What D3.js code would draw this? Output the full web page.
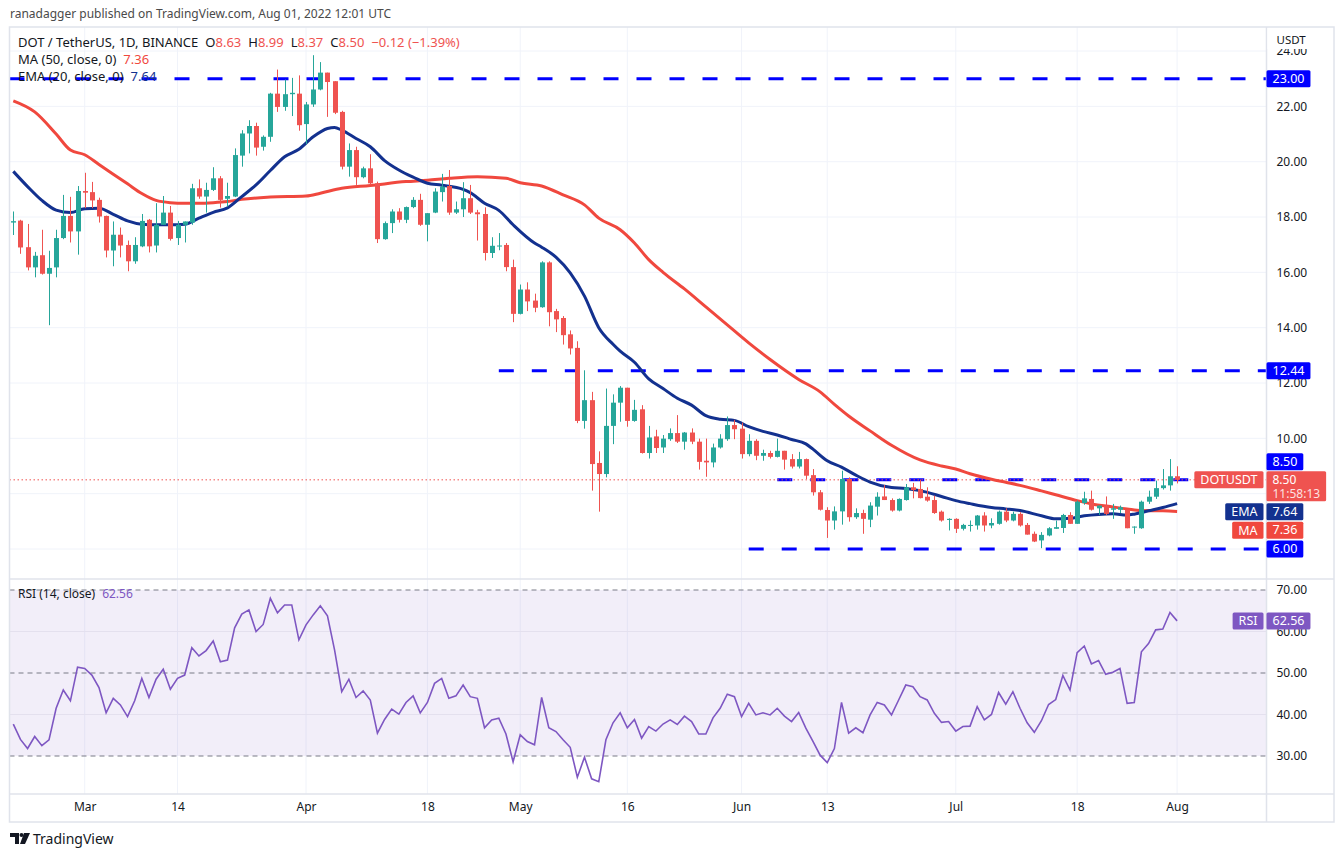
<!DOCTYPE html>
<html>
<head>
<meta charset="utf-8">
<script src="https://cdn.jsdelivr.net/npm/d3@7"></script>
<style>
  body { margin: 0; background: #fff; }
  svg { display: block; font-family: "Noto Sans", sans-serif; }
</style>
</head>
<body>
<div id="chart"></div>
<script>
// ---- data ----
var startDay = "2022-02-19";   // first candle, one candle per day
var opens = [17.8,17.87,16.91,16.18,16.62,15.95,16.18,17.24,18.04,17.48,18.94,18.9,18.62,18.04,16.79,17.36,16.99,16.4,16.94,17.9,
  16.97,17.72,18.16,17.24,17.72,17.8,19.04,18.74,18.98,19.4,18.66,18.74,20.22,21.02,21.29,20.54,20.9,22.46,21.98,22.44,
  22.46,21.36,22.07,22.61,23.22,22.91,21.8,19.82,20.42,19.44,19.76,19.22,17.2,17.78,18.2,17.9,18.36,18.62,17.72,18.16,
  18.9,19.12,18.16,18.28,18.68,18.17,18.11,16.7,16.94,16.99,16.19,14.5,15.38,14.98,14.74,16.36,14.6,14.35,13.76,13.27,
  10.63,11.38,9.11,8.71,10.45,11.29,11.83,10.63,11.05,9.47,10.07,9.67,9.97,10.19,9.88,10.21,9.88,9.19,9.13,9.67,
  9.97,10.48,10.35,9.43,9.91,9.37,9.47,9.33,9.55,9.25,8.98,9.25,8.67,8.05,7.41,7.03,7.36,8.53,7.15,7.3,
  7.06,7.53,7.9,7.77,7.39,7.77,8.23,8.17,7.89,7.77,7.35,7.05,7.09,6.73,6.85,6.85,7.21,6.85,6.91,7.35,
  7.03,7.27,6.87,6.55,6.31,6.49,6.73,6.76,7.23,6.91,7.66,7.81,7.47,7.57,7.42,7.42,7.42,6.79,6.75,7.71,
  7.89,8.2,8.3,8.63];
var highs = [18.2,17.9,17.75,16.74,17.54,16.78,17.54,18.8,18.73,19.12,19.6,19.27,18.7,18.05,17.84,17.62,17.15,17.27,18.11,17.93,
  18.5,18.76,18.4,17.86,17.84,19.2,19.36,19.24,19.8,19.48,19.24,20.48,21.14,21.5,21.41,20.95,22.49,23.33,22.97,23.03,
  23.12,22.16,23.85,23.6,23.22,22.91,21.84,20.66,20.54,19.82,20.27,19.28,17.84,18.28,18.32,18.38,18.72,18.84,18.14,19.04,
  19.56,19.7,18.56,19.26,19.16,18.26,18.35,17.27,17.42,17.06,16.46,15.56,15.64,15.23,16.4,16.4,14.68,14.42,13.9,13.51,
  12.46,11.68,9.53,11.8,11.59,11.89,11.83,11.39,11.2,10.45,10.31,10.12,10.36,10.84,10.23,10.36,9.99,9.99,9.81,10.15,
  10.79,10.67,10.57,10.15,9.97,9.59,9.55,9.99,9.55,9.43,9.51,9.27,8.89,8.13,7.51,7.54,8.83,8.59,7.47,7.42,
  7.69,8.05,8.31,7.83,7.83,8.35,8.39,8.51,8.23,7.93,7.39,7.11,7.11,6.91,7.03,7.23,7.33,7.11,7.39,7.47,
  7.35,7.33,6.94,6.63,6.61,6.79,7.03,7.27,7.33,7.75,8.07,8.11,7.57,7.9,7.63,7.57,7.42,6.82,7.75,8.11,
  8.47,8.89,9.25,8.99];
var lows = [17.35,16.67,16.07,15.82,15.92,14.09,15.82,17.2,17.08,16.64,18.32,18.32,17.8,16.54,16.22,16.54,16.04,16.31,16.91,16.72,
  16.72,17.72,17.15,16.99,17.08,17.72,18.66,18.16,18.94,18.34,18.38,18.72,19.82,20.3,20.22,20.4,20.72,21.8,21.84,21.65,
  21.12,20.64,21.98,22.58,21.62,21.72,19.72,19.46,19.16,19.4,19.16,17.06,17.18,17.42,17.8,17.78,18.32,17.68,17.12,18.14,
  18.56,18.08,18.11,18.0,18.11,17.15,16.43,16.52,16.8,16.04,14.2,14.48,14.6,14.56,14.72,14.05,13.84,13.39,13.03,10.55,
  10.35,8.11,7.35,8.59,9.79,10.6,10.42,10.6,9.45,9.27,9.47,9.47,9.91,9.83,9.59,9.79,8.87,8.61,8.95,9.63,
  9.91,9.97,9.27,9.35,9.21,9.19,9.27,9.31,8.87,8.91,8.91,8.53,7.93,7.39,6.4,6.7,6.88,6.99,7.09,6.55,
  6.79,7.21,7.77,7.35,7.36,7.75,7.83,7.83,7.71,7.27,6.99,6.67,6.58,6.67,6.63,6.7,6.63,6.75,6.88,6.97,
  7.0,6.81,6.52,6.25,6.03,6.46,6.73,6.58,6.91,6.91,7.6,7.39,7.23,7.23,7.09,7.3,6.75,6.55,6.73,7.63,
  7.81,8.15,8.11,8.37];
var closes = [17.85,16.9,16.18,16.6,15.95,16.16,17.24,18.04,17.48,18.94,18.88,18.6,18.02,16.79,17.36,16.97,16.4,16.99,17.86,16.94,
  17.72,18.16,17.21,17.72,17.84,19.04,18.74,18.98,19.4,18.62,18.76,20.24,21.02,21.29,20.51,20.9,22.46,21.98,22.44,22.49,
  21.32,22.07,22.61,23.22,22.88,21.77,19.82,20.42,19.44,19.76,19.22,17.2,17.78,18.2,17.9,18.36,18.62,17.72,18.14,18.92,
  19.1,18.16,18.28,18.68,18.16,18.1,16.7,16.96,16.97,16.19,14.5,15.38,14.95,14.72,16.36,14.56,14.3,13.73,13.25,10.63,
  11.38,9.07,8.71,10.45,11.29,11.83,10.63,11.03,9.47,10.03,9.65,9.99,10.19,9.88,10.21,9.88,9.15,9.13,9.67,9.99,
  10.48,10.33,9.43,9.91,9.37,9.47,9.33,9.55,9.23,8.98,9.25,8.65,8.05,7.42,7.03,7.36,8.53,7.15,7.3,7.09,
  7.57,7.89,7.77,7.39,7.81,8.23,8.13,7.84,7.75,7.3,7.03,7.09,6.73,6.87,6.87,7.21,6.85,6.94,7.35,7.03,
  7.27,6.85,6.52,6.27,6.51,6.75,6.79,7.23,6.91,7.71,7.83,7.42,7.57,7.27,7.47,7.51,6.75,6.81,7.71,7.89,
  8.2,8.3,8.63,8.5];
var rsiValues = [37.7,34.0,31.8,34.7,32.5,33.9,41.5,45.9,43.3,51.4,51.1,49.5,46.5,40.4,43.9,42.3,39.5,43.3,48.7,44.1,
  48.5,50.9,46.1,48.7,49.5,56.1,54.1,55.4,57.7,52.7,53.1,60.9,64.2,65.2,60.0,61.7,68.0,64.5,66.4,66.4,
  58.0,61.6,64.0,66.2,63.8,55.5,45.5,48.5,44.1,45.7,43.5,35.5,38.8,41.3,40.1,42.9,44.5,40.4,42.9,47.5,
  48.7,43.9,44.5,47.1,44.3,43.9,36.8,38.7,39.1,35.3,28.6,35.1,33.5,32.7,44.1,36.8,35.9,33.9,32.1,24.9,
  29.7,24.5,23.8,33.9,38.0,40.4,36.8,38.8,34.3,37.1,36.0,37.7,38.7,37.6,39.6,38.3,35.3,35.3,39.2,41.5,
  44.9,44.3,39.5,42.7,39.9,40.4,39.9,41.5,39.6,38.3,40.5,36.7,33.5,30.2,28.4,31.8,42.9,35.5,36.8,35.6,
  39.9,42.9,42.3,39.9,43.5,47.1,46.7,44.3,43.5,40.3,38.1,38.3,36.0,37.1,37.2,41.9,38.7,40.0,45.3,42.5,
  45.5,41.5,38.0,35.7,38.5,42.4,43.6,49.4,45.9,54.9,56.5,52.2,53.0,49.7,50.2,51.1,42.7,42.9,55.1,57.1,
  60.4,60.6,64.6,62.56];
// MA(50) and EMA(20) read at these candle numbers (1 = first candle)
var maDays = [1,4,7,9,11,13,15,17,19,21,23,25,27,29,31,33,37,42,44,47,51,56,59,62,66,70,72,75,78,81,
  83,86,88,90,92,95,98,101,104,107,111,114,116,118,121,124,128,131,133,135,138,140,142,145,147,150,152,155,157,159,162,164];
var maValues = [22.2,21.8,21.0,20.42,20.25,19.9,19.55,19.2,18.85,18.6,18.52,18.5,18.5,18.52,18.56,18.64,18.72,18.76,18.86,19.04,
  19.14,19.28,19.33,19.4,19.46,19.4,19.24,19.12,18.8,18.44,17.96,17.54,17.06,16.46,16.0,15.4,14.75,14.1,13.45,12.85,
  12.13,11.68,11.23,10.81,10.27,9.75,9.22,9.0,8.89,8.72,8.52,8.41,8.3,8.1,7.96,7.75,7.63,7.52,7.45,7.39,7.38,7.36];
var emaDays = [1,3,5,7,9,11,13,15,17,19,21,23,25,27,29,31,33,35,37,39,41,43,45,46,47,49,51,53,55,57,
  59,61,64,65,67,69,71,74,75,77,79,81,83,85,86,88,90,92,94,96,98,100,102,104,106,108,110,112,113,115,
  117,119,121,124,126,128,131,133,135,138,140,142,145,147,149,151,153,155,157,158,160,162,164];
var emaValues = [19.65,19.1,18.6,18.25,18.16,18.3,18.32,18.1,17.86,17.74,17.72,17.72,17.74,17.96,18.17,18.33,18.74,19.16,19.68,20.18,
  20.45,20.9,21.2,21.24,21.14,20.84,20.54,20.04,19.7,19.44,19.22,19.15,19.0,18.88,18.5,18.24,17.72,17.06,16.91,16.55,
  15.98,15.14,14.0,13.4,13.15,12.75,12.15,11.8,11.45,11.2,10.82,10.69,10.65,10.42,10.25,10.12,9.96,9.8,9.61,9.19,
  8.96,8.67,8.42,8.22,8.19,8.11,7.9,7.75,7.64,7.5,7.45,7.39,7.2,7.09,7.11,7.2,7.25,7.27,7.23,7.26,7.38,7.5,7.64];
// horizontal levels drawn on the chart, start / end candle (0 = from the left edge)
var levels = [23.00, 12.44, 8.50, 6.00];
var levelFrom = [0, 69, 108, 104];
var levelTo = [null, null, 166, null];
var tickDates = ["2022-03-01","2022-03-14","2022-04-01","2022-04-18","2022-05-01","2022-05-16","2022-06-01","2022-06-13","2022-07-01","2022-07-18","2022-08-01"];
var tickLabels = ["Mar","14","Apr","18","May","16","Jun","13","Jul","18","Aug"];
var priceTicks = [6,8,10,12,14,16,18,20,22,24];
var priceLabels = [10,12,14,16,18,20,22,24];   // 6.00 and 8.00 sit under the label boxes
var rsiTicks = [30,40,50,60,70];
var lastInfo = { open: 8.63, high: 8.99, low: 8.37, close: 8.50, change: "−0.12 (−1.39%)", timer: "11:58:13", ma: 7.36, ema: 7.64, rsi: 62.56 };

// ---- layout ----
var W = 1344, H = 857;
var padL = 9.5, plotRight = 1266.5, padR = 1334, padT = 27;
var mainBottom = 578.5, rsiBottom = 794, padB = 822;
var upColor = "#26a69a", downColor = "#ef5350";
var maColor = "#f0483e", emaColor = "#13318f", levelColor = "#0000ff", rsiColor = "#7e57c2";
var gridColor = "#f0f3fa", textColor = "#131722";

var parse = d3.utcParse("%Y-%m-%d");
var day0 = parse(startDay);
var dayOf = function (n) { return d3.utcDay.offset(day0, n - 1); };

var x = d3.scaleUtc()
    .domain([day0, parse("2022-08-01")])
    .range([13.3, 1177.1]);
var y = d3.scaleLinear().domain([6, 20]).range([549, 161.7]);
var yr = d3.scaleLinear().domain([30, 70]).range([756, 590]);

var candles = closes.map(function (c, i) {
    return { date: dayOf(i + 1), o: opens[i], h: highs[i], l: lows[i], c: c };
});

var svg = d3.select("#chart").append("svg")
    .attr("width", W).attr("height", H);

svg.append("text")
    .attr("x", 10).attr("y", 18)
    .attr("font-size", 12).attr("fill", "#4a4a4a")
    .text("ranadagger published on TradingView.com, Aug 01, 2022 12:01 UTC");

var defs = svg.append("defs");
defs.append("clipPath").attr("id", "mainClip").append("rect")
    .attr("x", padL).attr("y", padT).attr("width", plotRight - padL).attr("height", mainBottom - padT);
defs.append("clipPath").attr("id", "rsiClip").append("rect")
    .attr("x", padL).attr("y", mainBottom).attr("width", plotRight - padL).attr("height", rsiBottom - mainBottom);

// grid
var grid = svg.append("g");
grid.selectAll(".vg").data(tickDates).enter().append("line")
    .attr("x1", function (d) { return x(parse(d)); })
    .attr("x2", function (d) { return x(parse(d)); })
    .attr("y1", padT).attr("y2", rsiBottom)
    .attr("stroke", gridColor).attr("stroke-width", 1);
grid.selectAll(".hg").data(priceTicks).enter().append("line")
    .attr("x1", padL).attr("x2", plotRight)
    .attr("y1", function (d) { return y(d); })
    .attr("y2", function (d) { return y(d); })
    .attr("stroke", gridColor).attr("stroke-width", 1);

// ---- main pane ----
var main = svg.append("g").attr("clip-path", "url(#mainClip)");

levels.forEach(function (lv, i) {
    var x1 = levelFrom[i] === 0 ? padL : x(dayOf(levelFrom[i]));
    var x2 = levelTo[i] === null ? plotRight : x(dayOf(levelTo[i]));
    main.append("line")
        .attr("x1", x1).attr("x2", x2)
        .attr("y1", y(lv)).attr("y2", y(lv))
        .attr("stroke", levelColor).attr("stroke-width", 3)
        .attr("stroke-dasharray", "15,18");
});

// last price line
main.append("line")
    .attr("x1", padL).attr("x2", plotRight)
    .attr("y1", y(lastInfo.close)).attr("y2", y(lastInfo.close))
    .attr("stroke", downColor).attr("stroke-width", 1)
    .attr("stroke-dasharray", "1.5,2.5");

var maLine = d3.line()
    .x(function (d) { return x(dayOf(d[0])); })
    .y(function (d) { return y(d[1]); })
    .curve(d3.curveMonotoneX);

main.append("path")
    .datum(maDays.map(function (d, i) { return [d, maValues[i]]; }))
    .attr("d", maLine)
    .attr("fill", "none").attr("stroke", maColor).attr("stroke-width", 3);
main.append("path")
    .datum(emaDays.map(function (d, i) { return [d, emaValues[i]]; }))
    .attr("d", maLine)
    .attr("fill", "none").attr("stroke", emaColor).attr("stroke-width", 3);

var candle = main.selectAll(".candle").data(candles).enter().append("g");
candle.append("line")
    .attr("x1", function (d) { return Math.round(x(d.date)) + 0.5; })
    .attr("x2", function (d) { return Math.round(x(d.date)) + 0.5; })
    .attr("y1", function (d) { return y(d.h); })
    .attr("y2", function (d) { return y(d.l); })
    .attr("stroke", function (d) { return d.c >= d.o ? upColor : downColor; })
    .attr("stroke-width", 1);
candle.append("rect")
    .attr("x", function (d) { return Math.round(x(d.date)) - 2; })
    .attr("width", 5)
    .attr("y", function (d) { return y(Math.max(d.o, d.c)); })
    .attr("height", function (d) { return Math.max(1, Math.abs(y(d.o) - y(d.c))); })
    .attr("fill", function (d) { return d.c >= d.o ? upColor : downColor; });

// ---- RSI pane ----
var rsiG = svg.append("g").attr("clip-path", "url(#rsiClip)");
rsiG.append("rect")
    .attr("x", padL).attr("width", plotRight - padL)
    .attr("y", yr(70)).attr("height", yr(30) - yr(70))
    .attr("fill", rsiColor).attr("fill-opacity", 0.1);
rsiTicks.forEach(function (t) {
    var dashed = (t === 30 || t === 50 || t === 70);
    rsiG.append("line")
        .attr("x1", padL).attr("x2", plotRight)
        .attr("y1", yr(t)).attr("y2", yr(t))
        .attr("stroke", dashed ? "#787b86" : "#e4e0ee")
        .attr("stroke-width", 1)
        .attr("stroke-dasharray", dashed ? "5,4" : null);
});
rsiG.append("path")
    .datum(rsiValues)
    .attr("d", d3.line()
        .x(function (d, i) { return x(dayOf(i + 1)); })
        .y(function (d) { return yr(d); }))
    .attr("fill", "none").attr("stroke", rsiColor).attr("stroke-width", 1.6);

// ---- frame / separators ----
svg.append("rect")
    .attr("x", padL).attr("y", padT).attr("width", padR - padL).attr("height", padB - padT)
    .attr("fill", "none").attr("stroke", "#e0e3eb").attr("stroke-width", 1.5);
[[padL, padR, mainBottom + 0.5], [padL, padR, rsiBottom]].forEach(function (s) {
    svg.append("line").attr("x1", s[0]).attr("x2", s[1]).attr("y1", s[2]).attr("y2", s[2])
        .attr("stroke", "#e0e3eb").attr("stroke-width", 1.5);
});
svg.append("line").attr("x1", plotRight).attr("x2", plotRight).attr("y1", padT).attr("y2", padB)
    .attr("stroke", "#e0e3eb").attr("stroke-width", 1.5);

// ---- axes ----
var xAxis = svg.append("g")
    .attr("transform", "translate(0," + (rsiBottom + 2) + ")")
    .call(d3.axisBottom(x)
        .tickValues(tickDates.map(parse))
        .tickFormat(function (d, i) { return tickLabels[i]; })
        .tickSize(0).tickPadding(6));
xAxis.select(".domain").remove();
xAxis.selectAll("text").attr("font-size", 12).attr("fill", textColor).attr("font-family", "Noto Sans, sans-serif");

var yAxis = svg.append("g")
    .attr("transform", "translate(" + plotRight + ",0)")
    .call(d3.axisRight(y).tickValues(priceLabels).tickFormat(d3.format(".2f")).tickSize(0).tickPadding(10));
yAxis.select(".domain").remove();
yAxis.selectAll("text").attr("font-size", 12).attr("fill", textColor).attr("font-family", "Noto Sans, sans-serif");

var rAxis = svg.append("g")
    .attr("transform", "translate(" + plotRight + ",0)")
    .call(d3.axisRight(yr).tickValues(rsiTicks).tickFormat(d3.format(".2f")).tickSize(0).tickPadding(10));
rAxis.select(".domain").remove();
rAxis.selectAll("text").attr("font-size", 12).attr("fill", textColor).attr("font-family", "Noto Sans, sans-serif");

// the currency header hides the upper half of the top price label
svg.append("rect").attr("x", plotRight + 1).attr("y", padT + 1).attr("width", padR - plotRight - 2).attr("height", 21)
    .attr("fill", "#fff");
svg.append("text").attr("x", plotRight + 10).attr("y", 44)
    .attr("font-size", 11.5).attr("fill", textColor).text("USDT");

// ---- axis labels (boxes) ----
function valueBox(cy, txt, fill, txt2) {
    var g = svg.append("g");
    var h = txt2 ? 30 : 17;
    var fs = txt2 ? 12 : 12.5;
    var r = g.append("rect").attr("x", plotRight).attr("y", cy - 8.5).attr("height", h).attr("rx", 1.5).attr("fill", fill);
    var t = g.append("text").attr("x", plotRight + 6).attr("y", cy + 4)
        .attr("font-size", fs).attr("fill", "#fff").text(txt);
    var w = t.node().getComputedTextLength();
    if (txt2) {
        var t2 = g.append("text").attr("x", plotRight + 6).attr("y", cy + 18)
            .attr("font-size", fs).attr("fill", "#fff").attr("fill-opacity", 0.85).text(txt2);
        w = Math.max(w, t2.node().getComputedTextLength());
    }
    r.attr("width", w + 12);
    return { top: cy - 8.5, bottom: cy - 8.5 + h };
}
function nameBox(cy, txt, fill) {
    var g = svg.append("g");
    var t = g.append("text").attr("y", cy + 4.5).attr("font-size", 12.5).attr("fill", "#fff").text(txt);
    var w = t.node().getComputedTextLength();
    t.attr("x", plotRight - 3 - 6 - w);
    g.insert("rect", "text").attr("x", plotRight - 3 - 12 - w).attr("y", cy - 8.5)
        .attr("width", w + 12).attr("height", 17).attr("rx", 1.5).attr("fill", fill);
}
function fmt(v) { return d3.format(".2f")(v); }

valueBox(y(23), fmt(23), levelColor);
valueBox(y(12.44), fmt(12.44), levelColor);
var pb = valueBox(y(lastInfo.close), fmt(lastInfo.close), downColor, lastInfo.timer);
nameBox(y(lastInfo.close), "DOTUSDT", downColor);
valueBox(pb.top - 9.5, fmt(8.5), levelColor);
var emaY = Math.max(y(lastInfo.ema), pb.bottom + 10.5);
valueBox(emaY, fmt(lastInfo.ema), emaColor);
nameBox(emaY, "EMA", emaColor);
var maY = Math.max(y(lastInfo.ma), emaY + 18.5);
valueBox(maY, fmt(lastInfo.ma), maColor);
nameBox(maY, "MA", maColor);
valueBox(y(6), fmt(6), levelColor);
valueBox(yr(lastInfo.rsi), fmt(lastInfo.rsi), rsiColor);
nameBox(yr(lastInfo.rsi), "RSI", rsiColor);

// ---- legends ----
var lg = svg.append("g").attr("font-size", 13);
var l1 = lg.append("text").attr("x", 18).attr("y", 47).attr("fill", textColor);
l1.append("tspan").text("DOT / TetherUS, 1D, BINANCE");
[["O", lastInfo.open], ["H", lastInfo.high], ["L", lastInfo.low], ["C", lastInfo.close]].forEach(function (p) {
    l1.append("tspan").attr("dx", 7).attr("fill", textColor).text(p[0]);
    l1.append("tspan").attr("fill", downColor).text(fmt(p[1]));
});
l1.append("tspan").attr("dx", 7).attr("fill", downColor).text(lastInfo.change);

var l2 = lg.append("text").attr("x", 18).attr("y", 64).attr("fill", textColor);
l2.append("tspan").text("MA (50, close, 0)");
l2.append("tspan").attr("dx", 7).attr("fill", maColor).text(fmt(lastInfo.ma));
var l3 = lg.append("text").attr("x", 18).attr("y", 81).attr("fill", textColor);
l3.append("tspan").text("EMA (20, close, 0)");
l3.append("tspan").attr("dx", 7).attr("fill", emaColor).text(fmt(lastInfo.ema));

var l4 = svg.append("text").attr("x", 18).attr("y", 598).attr("font-size", 12).attr("fill", textColor);
l4.append("tspan").text("RSI (14, close)");
l4.append("tspan").attr("dx", 7).attr("fill", rsiColor).text(fmt(lastInfo.rsi));

// footer logo
var logo = svg.append("g").attr("fill", textColor).attr("transform", "translate(10,833)");
logo.append("path").attr("d", "M0,0 H9 V11 H5 V4 H0 Z");
logo.append("circle").attr("cx", 11.5).attr("cy", 2).attr("r", 2);
logo.append("path").attr("d", "M14,0 H20 L15,11 H10 Z");
svg.append("text").attr("x", 33).attr("y", 844).attr("font-size", 14).attr("fill", textColor).text("TradingView");
</script>
</body>
</html>
